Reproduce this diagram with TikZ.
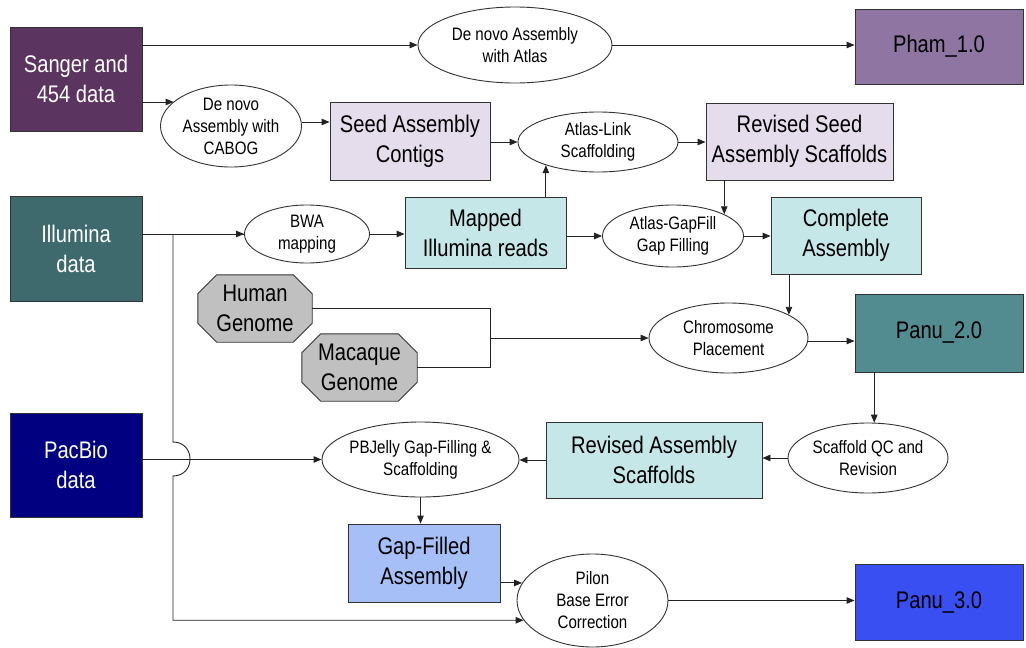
\documentclass[tikz,border=0pt]{standalone}
\usepackage{fontspec}
\setmainfont[FakeStretch=0.84]{Liberation Sans}
\usetikzlibrary{shapes.geometric,arrows.meta,backgrounds}
\definecolor{csanger}{HTML}{5B3460}
\definecolor{cpham}{HTML}{8E75A2}
\definecolor{clav}{HTML}{E6DDEC}
\definecolor{cillu}{HTML}{3E6A6E}
\definecolor{cteal}{HTML}{C6E7E7}
\definecolor{cpanu}{HTML}{528B90}
\definecolor{cgray}{HTML}{C0C0C0}
\definecolor{cpacbio}{HTML}{000080}
\definecolor{cgapf}{HTML}{A6C0F7}
\definecolor{cpanuc}{HTML}{3A4FF2}
\definecolor{bordc}{HTML}{333333}
\definecolor{linec}{HTML}{222222}
\newcommand\bigtxt{\fontsize{24}{30}\selectfont}
\newcommand\smtxt{\fontsize{18}{22}\selectfont}
\begin{document}
\begin{tikzpicture}[x=1pt,y=-1pt,
  box/.style={draw=bordc, line width=0.9pt, rectangle, inner sep=0pt, align=center, font=\bigtxt},
  ell/.style={draw=bordc, line width=0.9pt, ellipse, fill=white, inner sep=0pt},
  lbl/.style={font=\smtxt, align=center, inner sep=0pt},
  octtxt/.style={rectangle, inner sep=0pt, align=center, font=\bigtxt},
  oct/.style={draw=bordc, line width=0.9pt, fill=cgray},
  conn/.style={draw=linec, line width=0.9pt},
  arr/.style={conn, -{Triangle[length=8pt,width=6.5pt]}}]
\useasboundingbox (0,0) rectangle (1026,648);

% boxes
\node[box, fill=csanger, text=white, minimum width=132pt, minimum height=104pt] (sanger) at (76,79) {Sanger and\\454 data};
\node[box, fill=cpham, minimum width=168pt, minimum height=75pt] (pham) at (939,46.5) {Pham\_1.0};
\node[box, fill=clav, minimum width=160pt, minimum height=78pt] (seed) at (410,141) {Seed Assembly\\Contigs};
\node[box, fill=clav, minimum width=187pt, minimum height=77pt] (revseed) at (799.5,141.5) {Revised Seed\\Assembly Scaffolds};
\node[box, fill=cillu, text=white, minimum width=132pt, minimum height=105pt] (illumina) at (76,248.5) {Illumina\\data};
\node[box, fill=cteal, minimum width=161pt, minimum height=71pt] (mapped) at (485.5,232.5) {Mapped\\Illumina reads};
\node[box, fill=cteal, minimum width=150pt, minimum height=77pt] (complete) at (846,235.5) {Complete\\Assembly};
\node[box, fill=cpanu, minimum width=168pt, minimum height=78pt] (panu2) at (939,333) {Panu\_2.0};
\node[box, fill=cteal, minimum width=216pt, minimum height=76pt] (revasm) at (654,460) {Revised Assembly\\Scaffolds};
\node[box, fill=cpacbio, text=white, minimum width=132pt, minimum height=104pt] (pacbio) at (76,465) {PacBio\\data};
\node[box, fill=cgapf, minimum width=152pt, minimum height=78pt] (gapfilled) at (424,563) {Gap-Filled\\Assembly};
\node[box, fill=cpanuc, minimum width=168pt, minimum height=76pt] (panu3) at (939,602) {Panu\_3.0};

% octagon text nodes
\node[octtxt, minimum width=114pt, minimum height=67pt] (human) at (255,308.5) {Human\\Genome};
\node[octtxt, minimum width=115pt, minimum height=67pt] (macaque) at (359.5,367.5) {Macaque\\Genome};
\begin{scope}[on background layer]
\foreach \n in {human,macaque}{
  \path[oct] ([xshift=19pt]\n.north west) -- ([xshift=-19pt]\n.north east) -- ([yshift=-19pt]\n.north east) -- ([yshift=19pt]\n.south east) -- ([xshift=-19pt]\n.south east) -- ([xshift=19pt]\n.south west) -- ([yshift=19pt]\n.south west) -- ([yshift=-19pt]\n.north west) -- cycle;
}
\end{scope}

% ellipses
\node[ell, minimum width=194pt, minimum height=76pt, label={[lbl]center:{De novo Assembly\\with Atlas}}] (atlas) at (515,45) {};
\node[ell, minimum width=141pt, minimum height=82pt, label={[lbl]center:{De novo\\Assembly with\\CABOG}}] (cabog) at (231,126) {};
\node[ell, minimum width=160pt, minimum height=60pt, label={[lbl]center:{Atlas-Link\\Scaffolding}}] (link) at (598,142) {};
\node[ell, minimum width=125pt, minimum height=58pt, label={[lbl]center:{BWA\\mapping}}] (bwa) at (307,234) {};
\node[ell, minimum width=141pt, minimum height=62pt, label={[lbl]center:{Atlas-GapFill\\Gap Filling}}] (gapfill) at (673,236) {};
\node[ell, minimum width=159pt, minimum height=70pt, label={[lbl]center:{Chromosome\\Placement}}] (chrom) at (728.5,338) {};
\node[ell, minimum width=160pt, minimum height=70pt, label={[lbl]center:{Scaffold QC and\\Revision}}] (scqc) at (868,458) {};
\node[ell, minimum width=197pt, minimum height=75pt, label={[lbl]center:{PBJelly Gap-Filling \&\\Scaffolding}}] (pbjelly) at (420.5,459.5) {};
\node[ell, minimum width=151pt, minimum height=93pt, label={[lbl]center:{Pilon\\Base Error\\Correction}}] (pilon) at (592.5,600.5) {};

% connectors
\draw[arr] (sanger.east |- atlas) -- (atlas.west);
\draw[arr] (atlas.east) -- (atlas.east -| pham.west);
\draw[arr] ([yshift=-23pt]sanger.east) -- ([yshift=-23pt]sanger.east -| cabog.157);
\draw[arr] (cabog.east |- 0,122) -- (seed.west |- 0,122);
\draw[arr] (seed.east |- link) -- (link.west);
\draw[arr] (link.east) -- (link.east -| revseed.west);
\draw[arr] (mapped.north -| link.204) -- (link.204);
\draw[arr] (revseed.south -| gapfill.23) -- (gapfill.23);
\draw[conn] (illumina.east |- bwa) -- (bwa.west);
\coordinate (br) at (173,234);
\draw[arr] (br) -- (bwa.west);
\draw[arr] (bwa.east) -- (bwa.east -| mapped.west);
\draw[arr] (mapped.east |- gapfill) -- (gapfill.west);
\draw[arr] (gapfill.east) -- (gapfill.east -| complete.west);
\draw[arr] (complete.south -| chrom.21) -- (chrom.21);
\coordinate (jn) at (490,338);
\draw[conn] (human.east) -- (human.east -| jn) -- (macaque.east -| jn) -- (macaque.east);
\draw[arr] (jn) -- (chrom.west);
\draw[arr] (chrom.east |- 0,341) -- (panu2.west |- 0,341);
\draw[arr] (panu2.south -| scqc.80) -- (scqc.80);
\draw[arr] (scqc.west) -- (scqc.west -| revasm.east);
\draw[arr] (revasm.west) -- (revasm.west -| pbjelly.east);
\draw[arr] (pacbio.east |- pbjelly) -- (pbjelly.west);
\draw[arr] (pbjelly.south) -- (pbjelly.south |- gapfilled.north);
\draw[arr] (gapfilled.east |- pilon.166) -- (pilon.166);
\draw[arr] (br) -- (173,442) .. controls (195.7,442) and (195.7,476) .. (173,476) -- (br |- pilon.196) -- (pilon.196);
\draw[arr] (pilon.east) -- (pilon.east -| panu3.west);
\end{tikzpicture}
\end{document}
